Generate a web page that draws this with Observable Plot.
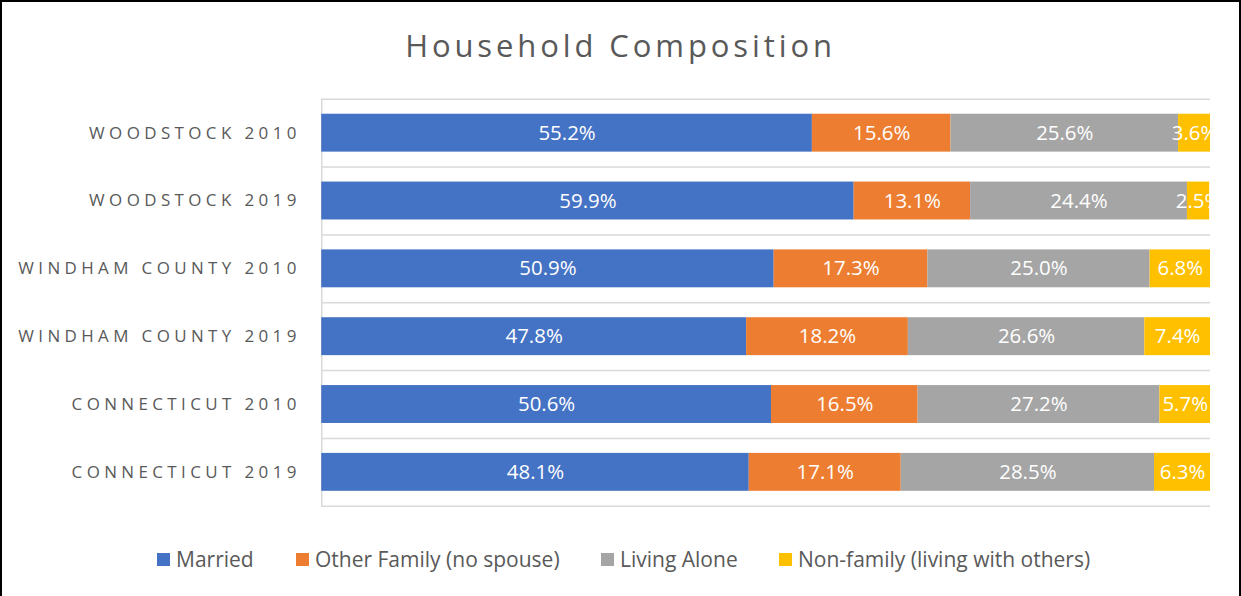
<!DOCTYPE html>
<html><head><meta charset="utf-8">
<script src="https://cdn.jsdelivr.net/npm/d3@7"></script>
<script src="https://cdn.jsdelivr.net/npm/@observablehq/plot@0.6"></script>
<style>
body{margin:0;background:#fff;}
#frame{position:relative;width:1241px;height:596px;box-sizing:border-box;border:2px solid #000;border-bottom:none;overflow:hidden;font-family:"Open Sans",sans-serif;background:#fff;}
#title{position:absolute;left:-2px;width:1241px;top:22px;text-align:center;font-size:31px;letter-spacing:3.9px;color:#595959;white-space:nowrap;}
#chart{position:absolute;left:-1px;top:-1px;}
#chart [aria-label="y-axis tick label"] text{letter-spacing:4.4px;}
.lg{position:absolute;top:543px;display:flex;align-items:center;font-size:21px;color:#595959;white-space:nowrap;}
.lg span.sw{display:inline-block;width:13px;height:13px;margin-right:6px;}
</style></head>
<body>
<div id="frame">
  <div id="chart"></div>
  <div id="title">Household Composition</div>
  <div id="legend"></div>
</div>
<script>
const categories = ["WOODSTOCK 2010","WOODSTOCK 2019","WINDHAM COUNTY 2010","WINDHAM COUNTY 2019","CONNECTICUT 2010","CONNECTICUT 2019"];
const seriesNames = ["Married","Other Family (no spouse)","Living Alone","Non-family (living with others)"];
const married     = [55.2,59.9,50.9,47.8,50.6,48.1];
const otherFamily = [15.6,13.1,17.3,18.2,16.5,17.1];
const livingAlone = [25.6,24.4,25.0,26.6,27.2,28.5];
const nonFamily   = [3.6,2.5,6.8,7.4,5.7,6.3];
const colors = ["#4472C4","#ED7D31","#A5A5A5","#FFC000"];

const seriesValues = [married, otherFamily, livingAlone, nonFamily];
const rows = [];
categories.forEach((c,i)=>{
  seriesNames.forEach((s,j)=>{
    rows.push({cat:c, series:s, value:seriesValues[j][i]});
  });
});

const W=1241, H=596, mT=98, mB=90, mL=321, mR=29;
const step = (H-mT-mB)/categories.length;

const plot = Plot.plot({
  width:W, height:H,
  marginTop:mT, marginBottom:mB, marginLeft:mL, marginRight:mR,
  style:{fontFamily:"'Open Sans', sans-serif", background:"transparent"},
  x:{domain:[0,100], axis:null},
  y:{domain:categories, paddingInner:0.44, paddingOuter:0.22, label:null},
  color:{domain:seriesNames, range:colors},
  marks:[
    Plot.ruleY(categories,{y:d=>d, dy:-step/2, stroke:"#d9d9d9", strokeWidth:1.5}),
    Plot.ruleY(categories.slice(-1),{y:d=>d, dy:step/2, stroke:"#d9d9d9", strokeWidth:1.5}),
    Plot.ruleX([0],{stroke:"#d9d9d9", strokeWidth:1.5}),
    Plot.barX(rows, Plot.stackX({x:"value", y:"cat", fill:"series"})),
    Plot.text(rows, Plot.stackX({x:"value", y:"cat", z:"series", text:d=>d.value.toFixed(1)+"%", fill:"white", fontSize:20.5, clip:true})),
    Plot.axisY({tickSize:0, tickPadding:21, fill:"#595959", fontSize:17, label:null})
  ]
});
document.getElementById("chart").appendChild(plot);

const legendX = [157,296,601,779];
const lg = document.getElementById("legend");
seriesNames.forEach((s,j)=>{
  const d = document.createElement("div");
  d.className="lg";
  d.style.left=(legendX[j]-2)+"px";
  d.innerHTML='<span class="sw" style="background:'+colors[j]+'"></span>'+s;
  lg.appendChild(d);
});
</script>
</body></html>
